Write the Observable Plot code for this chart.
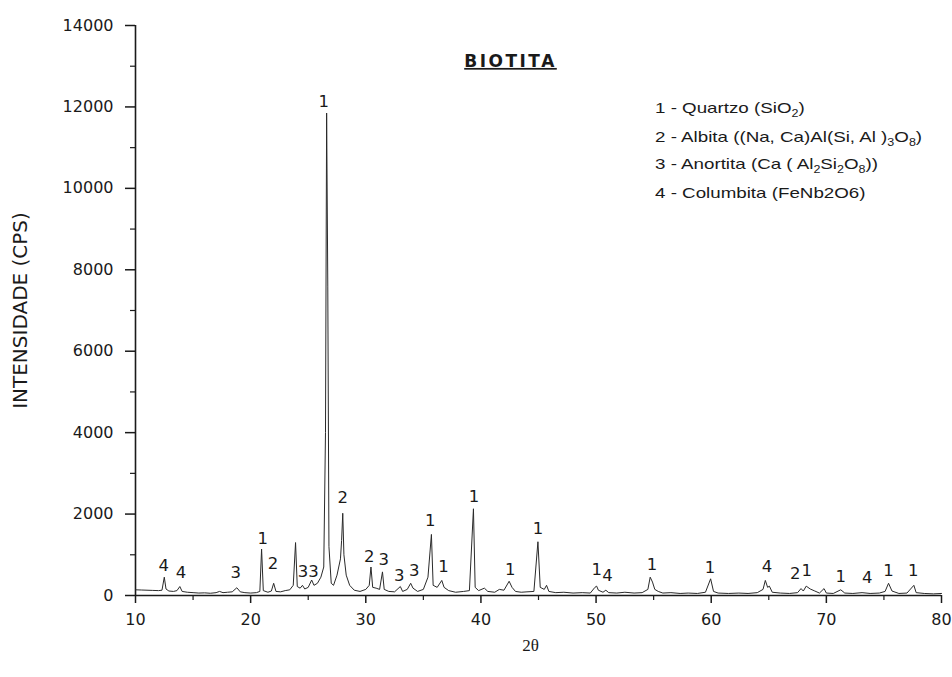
<!DOCTYPE html>
<html>
<head>
<meta charset="utf-8">
<script src="https://cdn.jsdelivr.net/npm/d3@7"></script>
<script src="https://cdn.jsdelivr.net/npm/@observablehq/plot@0.6"></script>
<style>
  html, body { margin: 0; padding: 0; background: #fff; }
  #wrap { position: relative; width: 952px; height: 677px; }
  .leg { position: absolute; left: 655px; font-family: "Liberation Sans", Arial, sans-serif; font-size: 15px; color: #1a1a1a; white-space: nowrap; line-height: 18px; transform: scaleX(1.25); transform-origin: left center; }
  .leg sub { font-size: 10px; vertical-align: -4px; line-height: 0; }
</style>
</head>
<body>
<div id="wrap"></div>
<script>
// ---- data: diffractogram (2θ in degrees, intensity in CPS) ----
const theta = [
  10.0,10.5,11.0,11.5,12.0,12.3,12.5,12.65,12.9,13.3,13.6,13.85,14.05,14.5,15.0,15.5,16.0,16.5,17.0,17.3,
  17.6,18.0,18.4,18.8,19.1,19.5,20.0,20.5,20.8,20.95,21.1,21.5,21.8,22.0,22.2,22.6,23.0,23.4,23.7,23.9,
  24.05,24.3,24.5,24.7,25.0,25.3,25.5,25.8,26.1,26.35,26.5,26.6,26.7,26.8,27.0,27.2,27.5,27.8,27.9,28.0,
  28.1,28.3,28.6,29.0,29.5,30.0,30.3,30.45,30.6,30.9,31.2,31.45,31.6,32.0,32.5,33.0,33.2,33.6,33.9,34.1,
  34.5,35.0,35.4,35.7,35.85,36.2,36.6,36.8,37.2,37.8,38.5,39.0,39.35,39.5,39.8,40.3,40.6,41.2,41.6,42.0,
  42.45,42.7,43.0,43.5,44.0,44.6,44.95,45.15,45.5,45.7,45.9,46.5,47.2,48.0,48.8,49.5,49.9,50.05,50.2,50.6,
  50.85,51.1,51.8,52.5,53.3,54.0,54.5,54.7,54.9,55.1,55.4,55.8,56.5,57.3,58.0,58.8,59.5,59.95,60.2,60.6,
  61.5,62.4,63.2,64.0,64.5,64.7,64.9,65.05,65.3,66.0,66.8,67.5,67.8,68.0,68.25,68.6,69.0,69.4,69.8,70.0,
  70.6,71.25,71.6,72.3,73.1,73.8,74.6,75.1,75.4,75.7,76.3,77.0,77.6,77.8,78.5,79.3,80.0
];
const intensity = [
  140,135,130,125,120,130,450,160,110,100,120,220,100,80,70,60,65,55,70,100,
  70,80,90,190,90,70,60,70,100,1140,120,80,110,300,100,90,120,140,250,1300,
  220,180,250,160,200,380,250,300,450,700,4000,11850,7600,1200,300,250,500,900,1350,2020,
  1000,500,250,130,100,150,250,700,200,180,150,580,150,100,90,220,100,150,300,180,
  100,150,450,1500,250,200,370,200,120,80,100,120,2130,200,120,180,100,80,150,130,
  350,200,100,80,90,100,1320,200,150,250,100,70,80,60,70,60,200,230,130,80,
  130,70,60,80,60,70,150,450,330,150,100,60,70,50,60,50,80,410,100,60,
  50,60,50,70,150,370,200,230,80,60,50,70,170,110,230,160,110,60,170,60,
  50,140,60,50,70,50,60,100,300,110,50,60,250,70,50,40,50
];

// ---- peak annotations (phase number at 2θ / intensity position) ----
const peakLabels = ["4","4","3","1","2","33","1","2","2","3","3","3","1","1","1","1","1","1","4","1","1","4","2","1","1","4","1","1"];
const peakTheta  = [12.45,13.95,18.7,21.05,21.95,25.0,26.35,28.0,30.3,31.55,32.9,34.2,35.6,36.75,39.4,42.55,44.95,50.05,51.0,54.85,59.9,64.85,67.3,68.3,71.25,73.55,75.4,77.55];
const peakCPS    = [735,560,560,1400,770,590,12130,2400,960,880,480,600,1840,700,2420,640,1640,630,480,750,690,710,540,620,470,440,600,610];

// ---- axis ticks ----
const xMajor = [10,20,30,40,50,60,70,80];
const xMinor = [15,25,35,45,55,65,75];
const yMajor = [0,2000,4000,6000,8000,10000,12000,14000];
const yMinor = [1000,3000,5000,7000,9000,11000,13000];

// ---- texts ----
const titleText = "BIOTITA";
const xLabel = "2θ";
const yLabel = "INTENSIDADE (CPS)";
const legendRows = [
  "1 - Quartzo (SiO<sub>2</sub>)",
  "2 - Albita ((Na, Ca)Al(Si, Al )<sub>3</sub>O<sub>8</sub>)",
  "3 - Anortita (Ca ( Al<sub>2</sub>Si<sub>2</sub>O<sub>8</sub>))",
  "4 - Columbita (FeNb2O6)"
];

const pattern = theta.map((t, i) => ({t, c: intensity[i]}));
const labels = peakLabels.map((s, i) => ({s, t: peakTheta[i], c: peakCPS[i]}));

const FONT = "DejaVu Sans, Liberation Sans, Arial, sans-serif";
const ink = "#1a1a1a";

const chart = Plot.plot({
  width: 952,
  height: 677,
  marginLeft: 135,
  marginRight: 11,
  marginTop: 25,
  marginBottom: 82,
  x: {domain: [10, 80]},
  y: {domain: [0, 14000]},
  style: {fontFamily: FONT, color: ink, background: "#fff", overflow: "visible"},
  marks: [
    Plot.axisX(xMajor, {tickSize: 8, tickPadding: 10, fontSize: 16, label: null, tickFormat: d3.format("d"), strokeWidth: 1.5}),
    Plot.axisX(xMinor, {tickSize: 5, tickFormat: () => "", label: null, strokeWidth: 1.2}),
    Plot.axisY(yMajor, {tickSize: 10, tickPadding: 12, fontSize: 16, label: null, tickFormat: d3.format("d"), strokeWidth: 1.5}),
    Plot.axisY(yMinor, {tickSize: 5, tickFormat: () => "", label: null, strokeWidth: 1.2}),
    Plot.ruleY([0], {stroke: ink, strokeWidth: 1.6}),
    Plot.ruleX([10], {stroke: ink, strokeWidth: 1.6}),
    Plot.line(pattern, {x: "t", y: "c", stroke: "#2a2a2a", strokeWidth: 1, curve: "linear"}),
    Plot.text(labels, {x: "t", y: "c", text: "s", fontSize: 16.5, fill: ink, textAnchor: "middle", lineAnchor: "middle"}),
    Plot.text([titleText], {frameAnchor: "top", dx: -28, dy: 36, fontSize: 17, fontWeight: "bold", fill: ink, lineAnchor: "middle", textAnchor: "middle"}),
    Plot.text([xLabel], {frameAnchor: "bottom", dx: -8, dy: 50, fontSize: 17, fontFamily: "Liberation Serif, Times New Roman, serif", fill: ink, lineAnchor: "middle", textAnchor: "middle"}),
    Plot.text([yLabel], {frameAnchor: "left", dx: -115, rotate: -90, fontSize: 20, fill: ink, lineAnchor: "middle", textAnchor: "middle"})
  ]
});

// underline the title and widen its letter spacing
chart.querySelectorAll("text").forEach(t => {
  if (t.textContent === titleText) {
    t.setAttribute("text-decoration", "underline");
    t.style.letterSpacing = "2.5px";
  }
});

const wrap = document.getElementById("wrap");
wrap.appendChild(chart);

const legendCenters = [108, 137, 164, 193];
legendRows.forEach((html, i) => {
  const d = document.createElement("div");
  d.className = "leg";
  d.style.top = (legendCenters[i] - 9) + "px";
  d.innerHTML = html;
  wrap.appendChild(d);
});
</script>
</body>
</html>
